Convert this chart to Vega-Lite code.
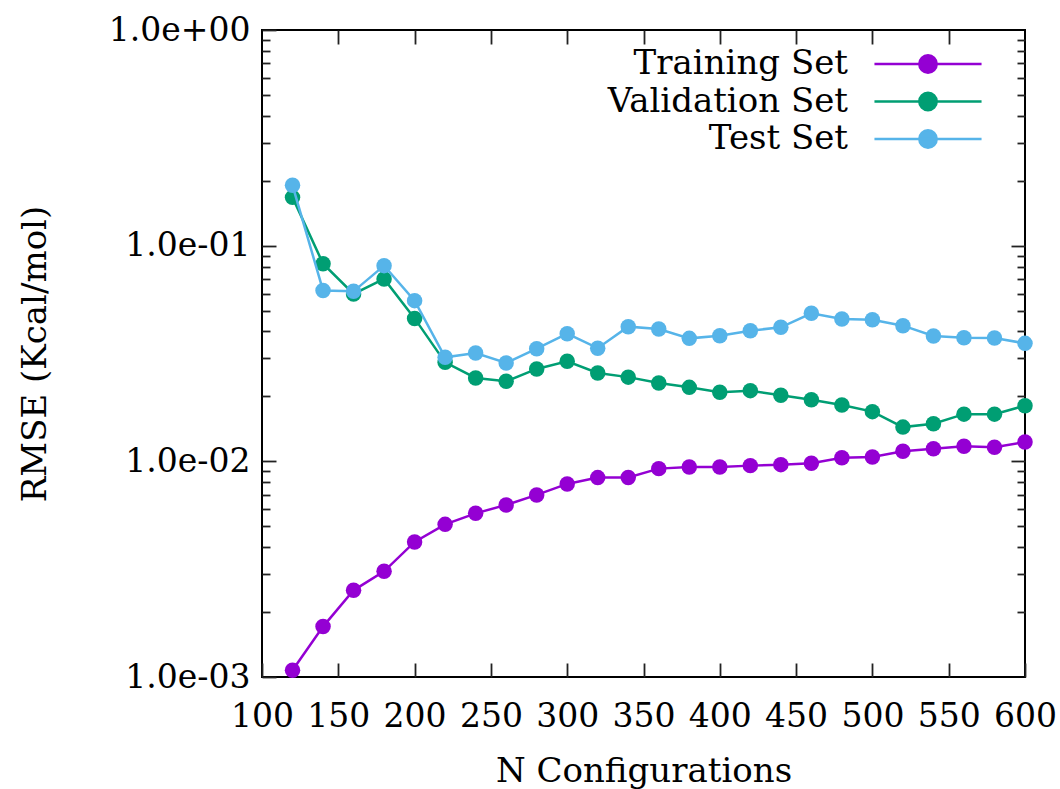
{
  "$schema": "https://vega.github.io/schema/vega-lite/v6.json",
  "autosize": {"type": "none"},
  "width": 763,
  "height": 647,
  "padding": {"left": 262, "top": 30, "right": 35, "bottom": 112},
  "background": "white",
  "config": {
    "view": {"stroke": "#000000", "strokeWidth": 2},
    "font": "DejaVu Serif",
    "axis": {"domain": false, "grid": false, "tickColor": "#222222", "tickWidth": 1.8, "labelColor": "#000000", "titleColor": "#000000", "labelFont": "DejaVu Serif", "titleFont": "DejaVu Serif", "titleFontWeight": "normal", "labelFontSize": 33, "titleFontSize": 34, "labelOverlap": false, "labelFlush": false, "labelBound": false}
  },
  "data": {"values": [
    {"n":120,"set":"Training Set","rmse":0.001074},{"n":140,"set":"Training Set","rmse":0.001713},{"n":160,"set":"Training Set","rmse":0.002523},{"n":180,"set":"Training Set","rmse":0.00309},{"n":200,"set":"Training Set","rmse":0.004228},{"n":220,"set":"Training Set","rmse":0.005102},{"n":240,"set":"Training Set","rmse":0.005739},{"n":260,"set":"Training Set","rmse":0.006279},{"n":280,"set":"Training Set","rmse":0.006985},{"n":300,"set":"Training Set","rmse":0.007856},{"n":320,"set":"Training Set","rmse":0.008404},{"n":340,"set":"Training Set","rmse":0.008421},{"n":360,"set":"Training Set","rmse":0.009251},{"n":380,"set":"Training Set","rmse":0.009419},{"n":400,"set":"Training Set","rmse":0.009419},{"n":420,"set":"Training Set","rmse":0.009552},{"n":440,"set":"Training Set","rmse":0.009654},{"n":460,"set":"Training Set","rmse":0.009788},{"n":480,"set":"Training Set","rmse":0.0104},{"n":500,"set":"Training Set","rmse":0.01048},{"n":520,"set":"Training Set","rmse":0.01113},{"n":540,"set":"Training Set","rmse":0.01145},{"n":560,"set":"Training Set","rmse":0.01174},{"n":580,"set":"Training Set","rmse":0.01162},{"n":600,"set":"Training Set","rmse":0.0123},
    {"n":120,"set":"Validation Set","rmse":0.1675},{"n":140,"set":"Validation Set","rmse":0.0825},{"n":160,"set":"Validation Set","rmse":0.0597},{"n":180,"set":"Validation Set","rmse":0.0701},{"n":200,"set":"Validation Set","rmse":0.046},{"n":220,"set":"Validation Set","rmse":0.02877},{"n":240,"set":"Validation Set","rmse":0.02435},{"n":260,"set":"Validation Set","rmse":0.02349},{"n":280,"set":"Validation Set","rmse":0.02682},{"n":300,"set":"Validation Set","rmse":0.02908},{"n":320,"set":"Validation Set","rmse":0.0257},{"n":340,"set":"Validation Set","rmse":0.02457},{"n":360,"set":"Validation Set","rmse":0.02309},{"n":380,"set":"Validation Set","rmse":0.02203},{"n":400,"set":"Validation Set","rmse":0.02089},{"n":420,"set":"Validation Set","rmse":0.02127},{"n":440,"set":"Validation Set","rmse":0.02023},{"n":460,"set":"Validation Set","rmse":0.01932},{"n":480,"set":"Validation Set","rmse":0.01826},{"n":500,"set":"Validation Set","rmse":0.017},{"n":520,"set":"Validation Set","rmse":0.01441},{"n":540,"set":"Validation Set","rmse":0.01495},{"n":560,"set":"Validation Set","rmse":0.01655},{"n":580,"set":"Validation Set","rmse":0.01655},{"n":600,"set":"Validation Set","rmse":0.01812},
    {"n":120,"set":"Test Set","rmse":0.1904},{"n":140,"set":"Test Set","rmse":0.062},{"n":160,"set":"Test Set","rmse":0.0614},{"n":180,"set":"Test Set","rmse":0.0808},{"n":200,"set":"Test Set","rmse":0.0556},{"n":220,"set":"Test Set","rmse":0.03035},{"n":240,"set":"Test Set","rmse":0.0318},{"n":260,"set":"Test Set","rmse":0.02858},{"n":280,"set":"Test Set","rmse":0.0333},{"n":300,"set":"Test Set","rmse":0.03908},{"n":320,"set":"Test Set","rmse":0.03348},{"n":340,"set":"Test Set","rmse":0.04212},{"n":360,"set":"Test Set","rmse":0.04109},{"n":380,"set":"Test Set","rmse":0.03717},{"n":400,"set":"Test Set","rmse":0.03826},{"n":420,"set":"Test Set","rmse":0.04036},{"n":440,"set":"Test Set","rmse":0.04182},{"n":460,"set":"Test Set","rmse":0.04855},{"n":480,"set":"Test Set","rmse":0.04573},{"n":500,"set":"Test Set","rmse":0.04538},{"n":520,"set":"Test Set","rmse":0.04257},{"n":540,"set":"Test Set","rmse":0.03814},{"n":560,"set":"Test Set","rmse":0.03745},{"n":580,"set":"Test Set","rmse":0.03733},{"n":600,"set":"Test Set","rmse":0.03524}
  ]},
  "resolve": {"axis": {"x": "independent", "y": "independent"}},
  "layer": [
    {
      "mark": {"type": "point", "opacity": 0},
      "encoding": {
        "x": {"field": "n", "type": "quantitative", "scale": {"domain": [100, 600], "nice": false, "zero": false}, "axis": {"orient": "top", "values": [150, 200, 250, 300, 350, 400, 450, 500, 550], "labels": false, "title": null, "tickSize": -14}},
        "y": {"field": "rmse", "type": "quantitative", "scale": {"type": "log", "domain": [0.001, 1], "nice": false}, "axis": {"orient": "right", "values": [0.01, 0.1], "labels": false, "title": null, "tickSize": -14}}
      }
    },
    {
      "mark": {"type": "point", "opacity": 0},
      "encoding": {
        "x": {"field": "n", "type": "quantitative", "axis": null},
        "y": {"field": "rmse", "type": "quantitative", "axis": {"orient": "left", "values": [0.002,0.003,0.004,0.005,0.006,0.007,0.008,0.009,0.02,0.03,0.04,0.05,0.06,0.07,0.08,0.09,0.2,0.3,0.4,0.5,0.6,0.7,0.8,0.9], "labels": false, "title": null, "tickSize": -8}}
      }
    },
    {
      "mark": {"type": "point", "opacity": 0},
      "encoding": {
        "x": {"field": "n", "type": "quantitative", "axis": null},
        "y": {"field": "rmse", "type": "quantitative", "axis": {"orient": "right", "values": [0.002,0.003,0.004,0.005,0.006,0.007,0.008,0.009,0.02,0.03,0.04,0.05,0.06,0.07,0.08,0.09,0.2,0.3,0.4,0.5,0.6,0.7,0.8,0.9], "labels": false, "title": null, "tickSize": -8}}
      }
    },
    {
      "transform": [{"filter": "datum.set === 'Training Set'"}],
      "mark": {"type": "line", "strokeWidth": 2.5, "point": {"filled": true, "size": 240, "opacity": 1}},
      "encoding": {
        "x": {"field": "n", "type": "quantitative", "axis": {"orient": "bottom", "values": [100, 150, 200, 250, 300, 350, 400, 450, 500, 550, 600], "title": "N Configurations", "tickSize": -14, "labelPadding": 37, "titlePadding": 21}},
        "y": {"field": "rmse", "type": "quantitative", "axis": {"orient": "left", "values": [0.001, 0.01, 0.1, 1], "labelExpr": "datum.value >= 1 ? '1.0e+00' : '1.0e-0' + round(-log(datum.value) / LN10)", "title": "RMSE (Kcal/mol)", "tickSize": -14, "labelPadding": 26, "titlePadding": 56}},
        "color": {"field": "set", "type": "nominal", "sort": null, "scale": {"domain": ["Training Set", "Validation Set", "Test Set"], "range": ["#9400D3", "#009E73", "#56B4E9"]}, "legend": {"title": null, "orient": "none", "legendX": 649, "legendY": 17, "symbolType": "M-3.57,0H3.57M0.58,0A0.58,0.58 0 1,1 -0.58,0A0.58,0.58 0 1,1 0.58,0Z", "symbolSize": 900, "symbolStrokeWidth": 2.5, "symbolOpacity": 1, "labelAlign": "right", "labelOffset": -97, "labelLimit": 0, "labelFontSize": 34, "labelFont": "DejaVu Serif", "labelColor": "#000000", "rowPadding": 3.5, "encode": {"symbols": {"update": {"fill": {"scale": "color", "field": "value"}, "fillOpacity": {"value": 1}}}}}}
      }
    },
    {
      "transform": [{"filter": "datum.set === 'Validation Set'"}],
      "mark": {"type": "line", "strokeWidth": 2.5, "point": {"filled": true, "size": 240, "opacity": 1}},
      "encoding": {
        "x": {"field": "n", "type": "quantitative", "axis": null},
        "y": {"field": "rmse", "type": "quantitative", "axis": null},
        "color": {"field": "set", "type": "nominal", "sort": null, "scale": {"domain": ["Training Set", "Validation Set", "Test Set"], "range": ["#9400D3", "#009E73", "#56B4E9"]}, "legend": {"title": null, "orient": "none", "legendX": 649, "legendY": 17, "symbolType": "M-3.57,0H3.57M0.58,0A0.58,0.58 0 1,1 -0.58,0A0.58,0.58 0 1,1 0.58,0Z", "symbolSize": 900, "symbolStrokeWidth": 2.5, "symbolOpacity": 1, "labelAlign": "right", "labelOffset": -97, "labelLimit": 0, "labelFontSize": 34, "labelFont": "DejaVu Serif", "labelColor": "#000000", "rowPadding": 3.5, "encode": {"symbols": {"update": {"fill": {"scale": "color", "field": "value"}, "fillOpacity": {"value": 1}}}}}}
      }
    },
    {
      "transform": [{"filter": "datum.set === 'Test Set'"}],
      "mark": {"type": "line", "strokeWidth": 2.5, "point": {"filled": true, "size": 240, "opacity": 1}},
      "encoding": {
        "x": {"field": "n", "type": "quantitative", "axis": null},
        "y": {"field": "rmse", "type": "quantitative", "axis": null},
        "color": {"field": "set", "type": "nominal", "sort": null, "scale": {"domain": ["Training Set", "Validation Set", "Test Set"], "range": ["#9400D3", "#009E73", "#56B4E9"]}, "legend": {"title": null, "orient": "none", "legendX": 649, "legendY": 17, "symbolType": "M-3.57,0H3.57M0.58,0A0.58,0.58 0 1,1 -0.58,0A0.58,0.58 0 1,1 0.58,0Z", "symbolSize": 900, "symbolStrokeWidth": 2.5, "symbolOpacity": 1, "labelAlign": "right", "labelOffset": -97, "labelLimit": 0, "labelFontSize": 34, "labelFont": "DejaVu Serif", "labelColor": "#000000", "rowPadding": 3.5, "encode": {"symbols": {"update": {"fill": {"scale": "color", "field": "value"}, "fillOpacity": {"value": 1}}}}}}
      }
    }
  ]
}
